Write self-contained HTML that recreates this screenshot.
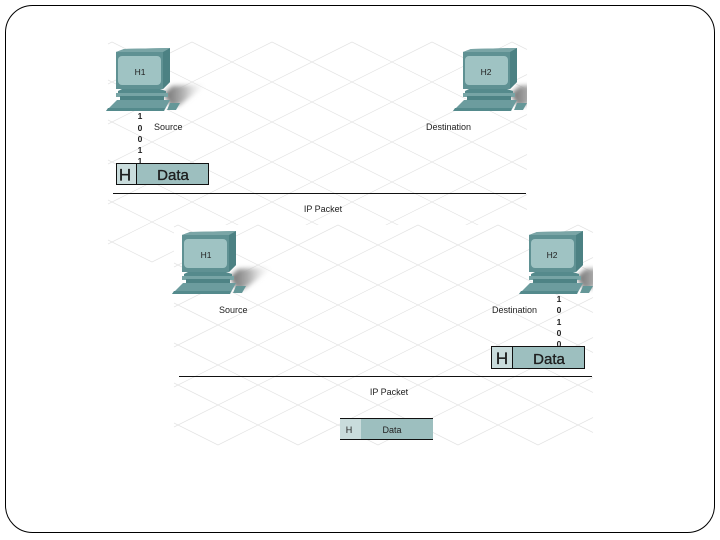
<!DOCTYPE html>
<html><head><meta charset="utf-8"><style>
html,body{margin:0;padding:0;background:#fff;width:720px;height:540px;overflow:hidden}
svg{display:block}
text{font-family:"Liberation Sans",sans-serif;fill:#222}
</style></head><body>
<svg width="720" height="540" viewBox="0 0 720 540" xmlns="http://www.w3.org/2000/svg">
<defs>
<filter id="bl" x="-30%" y="-30%" width="160%" height="160%"><feGaussianBlur stdDeviation="2.500"/></filter>
<linearGradient id="sh" x1="0" y1="0" x2="1" y2="0"><stop offset="0" stop-color="#6e6e6e"/><stop offset=".45" stop-color="#b5b5b5"/><stop offset="1" stop-color="#fff" stop-opacity="0"/></linearGradient>
<g id="pc">
<path d="M164 94L172 86L208 84L178 106L170 106Z" fill="url(#sh)" filter="url(#bl)"/>
<path d="M116 52L124 49L170 48L170 82L163 89L116 89Z" fill="#5f9193"/>
<path d="M163 52L170 48L170 82L163 89Z" fill="#4c8183"/>
<path d="M116 52L124 49L170 48L163 52Z" fill="#7aa5a6"/>
<rect x="118" y="56" width="43" height="29" rx="4" fill="#9fc3c3"/>
<path d="M122 89H160L166 91V94H118V91Z" fill="#558a8c"/>
<path d="M116 93H168V97H116Z" fill="#77a4a5"/>
<path d="M120 96H164V100H120Z" fill="#4e8385"/>
<path d="M117 100H170L164 111H106Z" fill="#6c9c9e"/>
<path d="M106 111H164L165 108H108Z" fill="#548a8c"/>
<path d="M170 103H180L176 110H167Z" fill="#659798"/>
</g>
<clipPath id="c1"><rect x="108" y="42" width="419" height="220"/></clipPath>
<g id="panel">
<rect x="108" y="42" width="419" height="220" fill="#fff"/>
<path d="M512 42L527 49.500M432 42L527 89.500M352 42L527 129.500M272 42L527 169.500M192 42L527 209.500M112 42L527 249.500M108 80L472 262M108 120L392 262M108 160L312 262M108 200L232 262M108 240L152 262M108 44L112 42M108 84L192 42M108 124L272 42M108 164L352 42M108 204L432 42M108 244L512 42M152 262L527 74.500M232 262L527 114.500M312 262L527 154.500M392 262L527 194.500M472 262L527 234.500" stroke="#e4e4e4" stroke-width=".7" fill="none"/>
<g clip-path="url(#c1)"><use href="#pc" x="347"/></g>
<use href="#pc"/>
<text x="140" y="75" font-size="8.500" text-anchor="middle">H1</text>
<text x="486" y="75" font-size="8.500" text-anchor="middle">H2</text>
<rect x="113" y="193" width="413" height="1" fill="#111"/>
<text x="323" y="212" font-size="9" text-anchor="middle">IP Packet</text>
</g>
</defs>
<rect x="5.500" y="5.500" width="709" height="527" rx="27" fill="#fff" stroke="#000" stroke-width="1"/>
<use href="#panel"/>
<use href="#panel" x="66" y="183"/>
<text x="154" y="130" font-size="9">Source</text>
<text x="426" y="130" font-size="9">Destination</text>
<text x="219" y="313" font-size="9">Source</text>
<text x="492" y="313" font-size="9">Destination</text>
<g font-size="8.500" font-weight="bold" text-anchor="middle">
<text x="140" y="119">1</text><text x="140" y="131">0</text><text x="140" y="142">0</text><text x="140" y="153">1</text><text x="140" y="164">1</text>
<text x="559" y="302">1</text><text x="559" y="313">0</text><text x="559" y="325">1</text><text x="559" y="336">0</text><text x="559" y="347">0</text>
</g>
<rect x="116.500" y="163.500" width="92" height="21" fill="#9dbfbf" stroke="#111"/>
<rect x="117" y="164" width="19" height="20" fill="#c9dcdc"/>
<path d="M136.500 164V185" stroke="#111"/>
<text x="125" y="180.500" font-size="17" text-anchor="middle" fill="#111" stroke="#111" stroke-width=".3">H</text>
<text x="173" y="180" font-size="15" text-anchor="middle" fill="#111" stroke="#111" stroke-width=".3">Data</text>
<rect x="491.500" y="346.500" width="93" height="22" fill="#9dbfbf" stroke="#111"/>
<rect x="492" y="347" width="20" height="21" fill="#c9dcdc"/>
<path d="M512.500 347V369" stroke="#111"/>
<text x="502" y="364" font-size="17" text-anchor="middle" fill="#111" stroke="#111" stroke-width=".3">H</text>
<text x="549" y="364" font-size="15" text-anchor="middle" fill="#111" stroke="#111" stroke-width=".3">Data</text>
<rect x="340" y="419" width="93" height="20" fill="#9dbfbf"/>
<rect x="340" y="419" width="21" height="20" fill="#c9dcdc"/>
<rect x="340" y="418" width="93" height="1" fill="#111"/>
<rect x="340" y="439" width="93" height="1" fill="#111"/>
<text x="349" y="433" font-size="9" text-anchor="middle">H</text>
<text x="392" y="433" font-size="9" text-anchor="middle">Data</text>
</svg>
</body></html>
